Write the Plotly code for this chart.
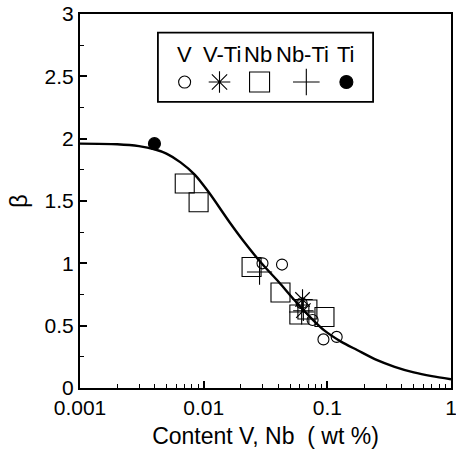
import plotly.graph_objects as go

# Measured beta values by steel type
v_content = [0.0299, 0.043, 0.062, 0.076, 0.093, 0.119]
v_beta = [1.00, 0.99, 0.68, 0.545, 0.39, 0.41]

vti_content = [0.063, 0.064]
vti_beta = [0.71, 0.62]

nb_content = [0.00703, 0.0091, 0.0244, 0.0418, 0.0594, 0.069, 0.0948]
nb_beta = [1.64, 1.49, 0.97, 0.766, 0.59, 0.63, 0.57]

nbti_content = [0.0283, 0.062]
nbti_beta = [0.93, 0.61]

ti_content = [0.004]
ti_beta = [1.96]

# Fitted trend curve
fit_content = [0.001, 0.002, 0.003, 0.004, 0.005, 0.0065, 0.0085, 0.011, 0.0162,
               0.0206, 0.03, 0.0405, 0.0541, 0.075, 0.095, 0.13, 0.174, 0.25,
               0.35, 0.5, 0.7, 1.0]
fit_beta = [1.96, 1.955, 1.94, 1.915, 1.88, 1.81, 1.71, 1.57, 1.33,
            1.19, 0.99, 0.85, 0.706, 0.555, 0.46, 0.37, 0.305, 0.225,
            0.17, 0.125, 0.095, 0.07]

legend_names = ["V", "V-Ti", "Nb", "Nb-Ti", "Ti"]
legend_symbols = ["circle-open", "asterisk-open", "square-open", "cross-thin-open", "circle"]
legend_sizes = [12, 18, 20, 19, 13]
legend_text_x = [0.282, 0.383, 0.480, 0.600, 0.718]
legend_mark_x = [0.282, 0.376, 0.484, 0.610, 0.718]

font = "Liberation Sans, Arial, sans-serif"
black = "#000000"

fig = go.Figure()

fig.add_trace(go.Scatter(x=fit_content, y=fit_beta, mode="lines",
                         line=dict(color=black, width=2.4, shape="spline", smoothing=0.8),
                         hoverinfo="skip"))

series = [
    (v_content, v_beta, "circle-open", 11),
    (vti_content, vti_beta, "asterisk-open", 17),
    (nb_content, nb_beta, "square-open", 19),
    (nbti_content, nbti_beta, "cross-thin-open", 18),
    (ti_content, ti_beta, "circle", 12),
]
for xs, ys, sym, sz in series:
    fig.add_trace(go.Scatter(x=xs, y=ys, mode="markers",
                             marker=dict(symbol=sym, size=sz, color=black,
                                         line=dict(color=black, width=1.1))))

# Legend box contents placed on an auxiliary unit axis
for name, sym, sz, tx, mx in zip(legend_names, legend_symbols, legend_sizes,
                                 legend_text_x, legend_mark_x):
    fig.add_trace(go.Scatter(x=[mx], y=[0.818], mode="markers", xaxis="x2", yaxis="y2",
                             marker=dict(symbol=sym, size=sz, color=black,
                                         line=dict(color=black, width=1.1))))
    fig.add_annotation(x=tx, y=0.893, xref="x2", yref="y2", text=name, showarrow=False,
                       font=dict(family=font, size=22, color=black))

fig.add_shape(type="rect", xref="x2", yref="y2", x0=0.210, x1=0.790,
              y0=0.765, y1=0.950, line=dict(color=black, width=1.8), fillcolor="rgba(0,0,0,0)")

fig.update_layout(
    width=456, height=457,
    margin=dict(l=80, r=5, t=14, b=69),
    paper_bgcolor="white", plot_bgcolor="white",
    showlegend=False,
    font=dict(family=font, size=21, color=black),
    xaxis=dict(type="log", range=[-3, 0], showgrid=False, zeroline=False, automargin=False,
               ticklabeloverflow="allow",
               showline=True, linecolor=black, linewidth=2, mirror=True,
               ticks="inside", ticklen=7, tickwidth=1.5, tickcolor=black,
               tickvals=[0.001, 0.01, 0.1, 1], ticktext=["0.001", "0.01", "0.1", "1"],
               minor=dict(ticks="inside", ticklen=4, tickwidth=1.2, tickcolor=black,
                          tickvals=[m * 10 ** e for e in (-3, -2, -1) for m in range(2, 10)]),
               title=dict(text="Content V, Nb  ( wt %)", standoff=10,
                          font=dict(family=font, size=23))),
    yaxis=dict(range=[0, 3], showgrid=False, zeroline=False, automargin=False,
               showline=True, linecolor=black, linewidth=2, mirror=True,
               ticks="inside", ticklen=7, tickwidth=1.5, tickcolor=black,
               tickvals=[0, 0.5, 1, 1.5, 2, 2.5, 3],
               ticktext=["0", "0.5", "1", "1.5", "2", "2.5", "3"],
               minor=dict(ticks="inside", ticklen=4, tickwidth=1.2, tickcolor=black, dtick=0.25),
               title=dict(text="β", standoff=10, font=dict(family=font, size=24))),
    xaxis2=dict(overlaying="x", range=[0, 1], visible=False),
    yaxis2=dict(overlaying="y", range=[0, 1], visible=False),
)

fig.write_html("out.html")
